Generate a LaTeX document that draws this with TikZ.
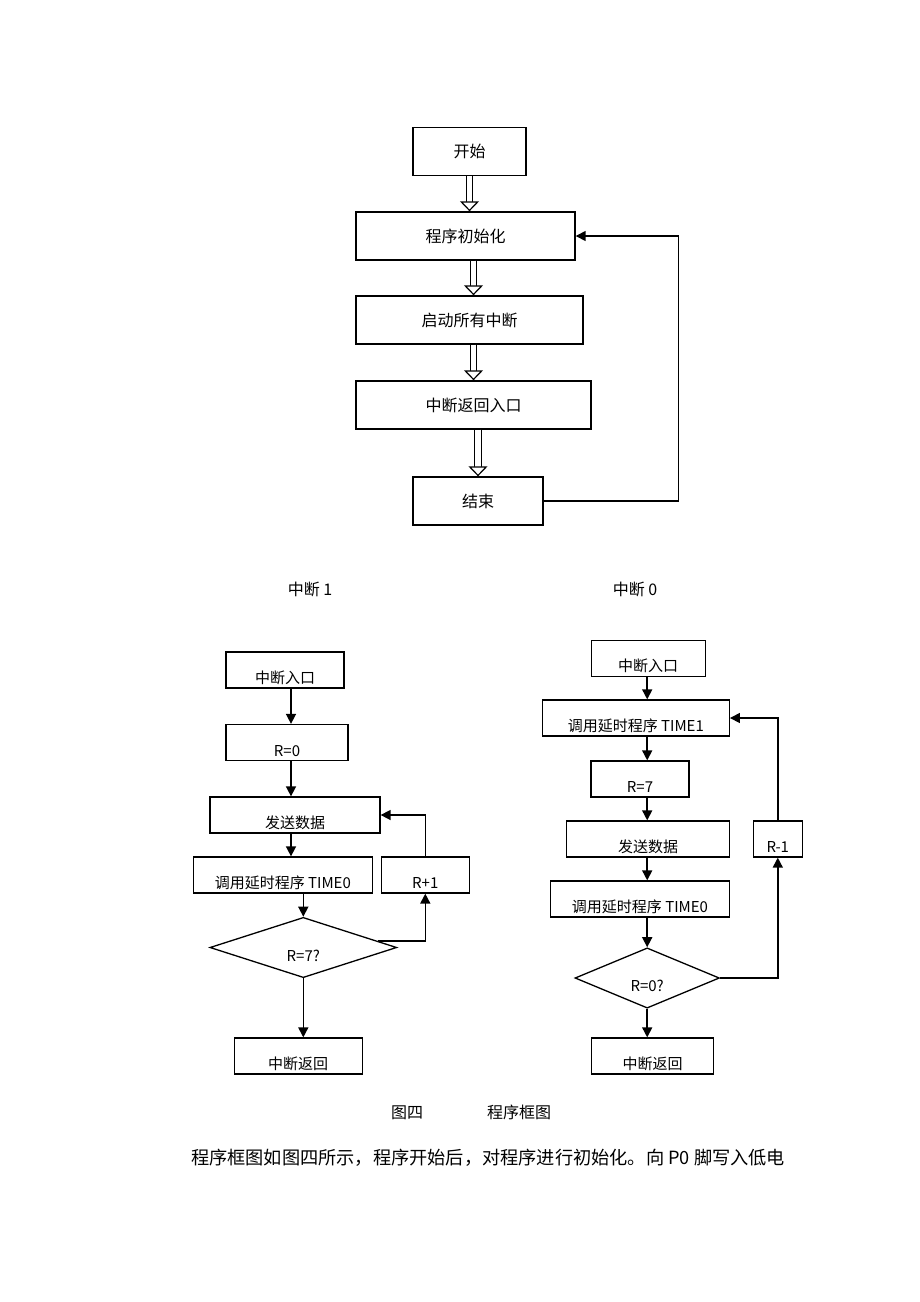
\documentclass[tikz,border=0pt]{standalone}
\usepackage{fontspec}
\usepackage{tikz}
\usetikzlibrary{arrows.meta}
\usetikzlibrary{shapes.geometric}
\newfontfamily\cjk{Noto Sans CJK SC}

\begin{document}
\begin{tikzpicture}[x=0.5pt,y=-0.5pt,
  every node/.style={font=\cjk\fontsize{7.5pt}{9pt}\selectfont},
  box/.style={draw,line width=0.65pt,rectangle,inner sep=0pt},
  bigbox/.style={box,line width=0.7pt,minimum height=24pt,font=\cjk\fontsize{8pt}{10pt}\selectfont},
  smallbox/.style={box,minimum height=18pt,text height=13.5pt,text depth=0pt},
  cond/.style={draw,line width=0.65pt,diamond,inner sep=0pt,text height=13.5pt,text depth=0pt},
  dbl/.style={double,line width=0.55pt,double distance=2.8pt,-{Triangle[fill=white,line width'=0.6pt,length=5pt,width=9.5pt]}},
  arr/.style={line width=0.8pt,-{Triangle[length=5pt,width=5pt]}}]
  \useasboundingbox (0,0) rectangle (920,1302);

  %top
  \node[bigbox,minimum width=56.5pt] (start) at (469.5,151.5) {开始};
  \node[bigbox,minimum width=109.5pt] (init) at (465.5,236) {程序初始化};
  \node[bigbox,minimum width=113.5pt] (enable) at (469.5,320) {启动所有中断};
  \node[bigbox,minimum width=117.5pt] (ret) at (473.5,405) {中断返回入口};
  \node[bigbox,minimum width=65pt] (finish) at (478,501) {结束};
  \draw[dbl] (start) -- (start |- init.north);
  \draw[dbl] (init.south -| ret) -- (enable.north -| ret);
  \draw[dbl] (enable.south -| ret) -- (ret.north);
  \draw[dbl] (ret.south -| finish) -- (finish);
  \draw[arr,line width=0.75pt] (finish.east) -- ++(135,0) |- (init.east);

  %left
  \node[font=\cjk\fontsize{8pt}{10pt}\selectfont] (h1) at (310,589) {中断 1};
  \coordinate (s1) at (291,0);
  \node[smallbox,minimum width=59pt] (a1) at (285,670) {中断入口};
  \node[smallbox,minimum width=61pt] (a2) at (287,742.5) {R=0};
  \node[smallbox,minimum width=85pt] (a3) at (295,815) {发送数据};
  \node[smallbox,minimum width=89.5pt] (a4) at (282.8,875) {调用延时程序 TIME0};
  \node[smallbox,minimum width=44pt] (a5) at (425.3,875) {R+1};
  \node[cond,minimum width=93.4pt,minimum height=29.8pt] (a6) at (303.3,947.5) {R=7?};
  \node[smallbox,minimum width=64pt] (a7) at (298.2,1056) {中断返回};
  \draw[arr] (a1.south -| s1) -- (a2.north -| s1);
  \draw[arr] (a2.south -| s1) -- (a3.north -| s1);
  \draw[arr] (a3.south -| s1) -- (a4.north -| s1);
  \draw[arr] (a4.south -| a6) -- (a6);
  \draw[arr] (a6) -- (a7.north -| a6);
  \draw[arr] (a6.5) -| (a5);
  \draw[arr] (a5) |- (a3);

  %right
  \node[font=\cjk\fontsize{8pt}{10pt}\selectfont] (h0) at (635,589) {中断 0};
  \node[smallbox,minimum width=57pt] (b1) at (648.2,658.3) {中断入口};
  \node[smallbox,minimum width=93.5pt] (b2) at (635.8,718) {调用延时程序 TIME1};
  \node[smallbox,minimum width=49pt] (b3) at (640,779) {R=7};
  \node[smallbox,minimum width=81.3pt] (b4) at (648,839) {发送数据};
  \node[smallbox,minimum width=89.3pt] (b5) at (640,899) {调用延时程序 TIME0};
  \node[cond,minimum width=72.2pt,minimum height=23.9pt] (b6) at (647.2,978) {R=0?};
  \node[smallbox,minimum width=60.8pt] (b7) at (652.5,1056) {中断返回};
  \node[smallbox,minimum width=24.5pt] (b8) at (777.8,839) {R-1};
  \draw[arr] (b1.south -| b6) -- (b2.north -| b6);
  \draw[arr] (b2.south -| b6) -- (b3.north -| b6);
  \draw[arr] (b3.south -| b6) -- (b4.north -| b6);
  \draw[arr] (b4.south -| b6) -- (b5.north -| b6);
  \draw[arr] (b5.south -| b6) -- (b6);
  \draw[arr] (b6) -- (b7.north -| b6);
  \draw[arr] (b6.east) -| (b8);
  \draw[arr] (b8) |- (b2);

  %caption
  \node[font=\cjk\fontsize{8pt}{10pt}\selectfont] (cap) at (471,1112) {图四\hspace{32pt}程序框图};
  \node[anchor=west,font=\cjk\fontsize{9.1pt}{11pt}\selectfont] (txt) at (184,1158) {程序框图如图四所示，程序开始后，对程序进行初始化。向 P0 脚写入低电};
\end{tikzpicture}
\end{document}
